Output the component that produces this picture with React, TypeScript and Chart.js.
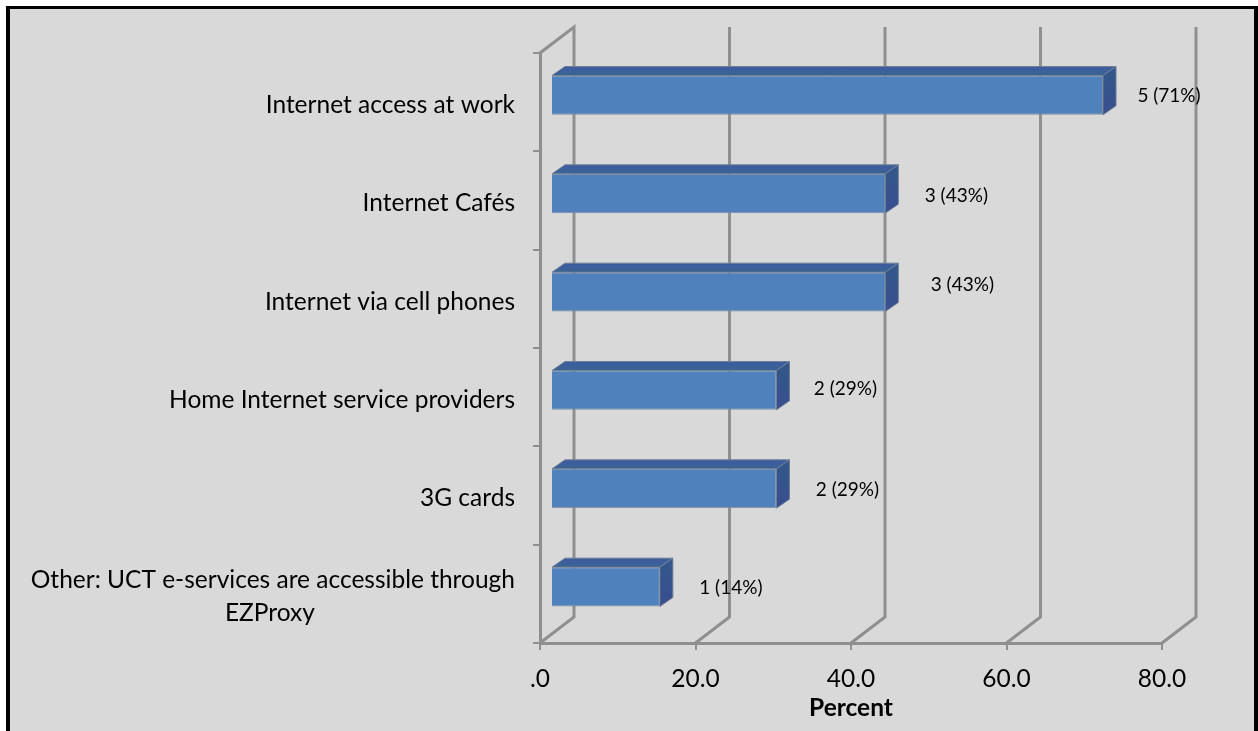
import React, { useEffect, useRef } from "react";
import { Chart, registerables } from "chart.js";

Chart.register(...registerables);

const categories = [
  "Internet access at work",
  "Internet Cafés",
  "Internet via cell phones",
  "Home Internet service providers",
  "3G cards",
  ["Other: UCT e-services are accessible through", "EZProxy"],
];
const percents = [71, 43, 43, 29, 29, 14];
const counts = [5, 3, 3, 2, 2, 1];
const axisTicks = [0, 20, 40, 60, 80];
const axisTitle = "Percent";

const labelNudgeX = [77, 82, 88, 80, 82, 82];
const labelNudgeY = [-6, -5, -14, -8, -6, -6];

const FONT = "Lato, Carlito, Calibri, sans-serif";
const GRID = "#8f8f8f";
const DEPTH_X = 34;
const DEPTH_Y = 26;
const BAR_SHIFT_X = 11;
const BAR_SHIFT_Y = -7;
const BAR_DX = 13;
const BAR_DY = 9;

const framePlugin = {
  id: "frame",
  beforeDraw(chart: any) {
    const { ctx, width, height } = chart;
    ctx.save();
    ctx.fillStyle = "#ffffff";
    ctx.fillRect(0, 0, width, height);
    ctx.fillStyle = "#000000";
    ctx.fillRect(6, 6, width - 6, height - 6);
    ctx.fillStyle = "#d9d9d9";
    ctx.fillRect(10, 9, width - 14, height - 9);
    ctx.restore();
  },
};

const wallPlugin = {
  id: "walls",
  beforeDatasetsDraw(chart: any) {
    const { ctx, chartArea, scales } = chart;
    ctx.save();
    ctx.strokeStyle = GRID;
    ctx.lineWidth = 3;
    ctx.lineJoin = "miter";
    axisTicks.forEach((v) => {
      const px = scales.x.getPixelForValue(v);
      ctx.beginPath();
      ctx.moveTo(px, chartArea.bottom);
      ctx.lineTo(px + DEPTH_X, chartArea.bottom - DEPTH_Y);
      ctx.lineTo(px + DEPTH_X, chartArea.top - DEPTH_Y);
      if (v === 0) ctx.lineTo(px, chartArea.top);
      ctx.stroke();
    });
    ctx.restore();
  },
};

const bar3dPlugin = {
  id: "bar3d",
  beforeDatasetDraw(chart: any, args: any) {
    const { ctx } = chart;
    ctx.save();
    ctx.translate(BAR_SHIFT_X, BAR_SHIFT_Y);
    args.meta.data.forEach((bar: any) => {
      const top = bar.y - bar.height / 2;
      const bottom = bar.y + bar.height / 2;
      const left = bar.base;
      const right = bar.x;

      const topFill = ctx.createLinearGradient(0, top - BAR_DY, 0, top);
      topFill.addColorStop(0, "#3c5b9e");
      topFill.addColorStop(0.5, "#3d5f9c");
      topFill.addColorStop(1, "#386591");
      ctx.fillStyle = topFill;
      ctx.strokeStyle = "#6f7f96";
      ctx.lineWidth = 1;
      ctx.beginPath();
      ctx.moveTo(left, top);
      ctx.lineTo(left + BAR_DX, top - BAR_DY);
      ctx.lineTo(right + BAR_DX, top - BAR_DY);
      ctx.lineTo(right, top);
      ctx.closePath();
      ctx.fill();
      ctx.stroke();

      const sideFill = ctx.createLinearGradient(0, top, 0, bottom);
      sideFill.addColorStop(0, "#33578a");
      sideFill.addColorStop(1, "#3a4d90");
      ctx.fillStyle = sideFill;
      ctx.beginPath();
      ctx.moveTo(right, top);
      ctx.lineTo(right + BAR_DX, top - BAR_DY);
      ctx.lineTo(right + BAR_DX, bottom - BAR_DY);
      ctx.lineTo(right, bottom);
      ctx.closePath();
      ctx.fill();
      ctx.stroke();
    });
  },
  afterDatasetDraw(chart: any) {
    chart.ctx.restore();
  },
};

const valueLabelPlugin = {
  id: "valueLabels",
  afterDatasetsDraw(chart: any) {
    const { ctx } = chart;
    const meta = chart.getDatasetMeta(0);
    ctx.save();
    ctx.font = `19px ${FONT}`;
    ctx.fillStyle = "#000000";
    ctx.textAlign = "center";
    ctx.textBaseline = "middle";
    meta.data.forEach((bar: any, i: number) => {
      ctx.fillText(
        `${counts[i]} (${percents[i]}%)`,
        bar.x + labelNudgeX[i],
        bar.y + labelNudgeY[i]
      );
    });
    ctx.restore();
  },
};

export default function App() {
  const ref = useRef<HTMLCanvasElement | null>(null);

  useEffect(() => {
    const canvas = ref.current;
    if (!canvas) return;
    const chart = new Chart(canvas, {
      type: "bar",
      data: {
        labels: categories as any,
        datasets: [
          {
            label: axisTitle,
            data: percents,
            backgroundColor: (c: any) => {
              const bar = c.chart.getDatasetMeta(0).data[c.dataIndex];
              if (!bar || !bar.height) return "#4f81bd";
              const g = c.chart.ctx.createLinearGradient(
                0,
                bar.y - bar.height / 2,
                0,
                bar.y + bar.height / 2
              );
              g.addColorStop(0, "#4c7dc2");
              g.addColorStop(1, "#4f81b9");
              return g;
            },
            borderColor: "#7f8c9c",
            borderWidth: 1,
            barPercentage: 0.4,
            categoryPercentage: 1,
          },
        ],
      },
      options: {
        indexAxis: "y",
        responsive: false,
        animation: false,
        layout: { padding: { top: 53, right: 96, bottom: 0, left: 0 } },
        plugins: { legend: { display: false }, tooltip: { enabled: false } },
        scales: {
          x: {
            type: "linear",
            min: 0,
            max: 80,
            afterBuildTicks: (s: any) => {
              s.ticks = axisTicks.map((value) => ({ value }));
            },
            afterFit: (s: any) => {
              s.height = 88;
            },
            border: { color: GRID, width: 3 },
            grid: { drawOnChartArea: false, drawTicks: true, tickLength: 7, color: GRID, lineWidth: 2 },
            ticks: {
              padding: 14,
              color: "#000000",
              maxRotation: 0,
              font: { family: FONT, size: 24.5 },
              callback: (v: any) => (Number(v) === 0 ? ".0" : Number(v).toFixed(1)),
            },
            title: {
              display: true,
              text: axisTitle,
              color: "#000000",
              font: { family: FONT, size: 24.5, weight: "bold" },
              padding: { top: 0, bottom: 8 },
            },
          },
          y: {
            type: "category",
            afterFit: (s: any) => {
              s.width = 540;
            },
            border: { color: GRID, width: 3 },
            grid: { drawOnChartArea: false, drawTicks: true, tickLength: 7, color: GRID, lineWidth: 2 },
            ticks: {
              padding: 18,
              labelOffset: 3,
              color: "#000000",
              autoSkip: false,
              font: { family: FONT, size: 24.5, lineHeight: 1.35 },
              callback: function (this: any, _v: any, i: number) {
                const label = categories[i];
                if (Array.isArray(label)) {
                  return [label[0], label[1] + "\u00A0".repeat(32)];
                }
                return label;
              },
            },
          },
        },
      },
      plugins: [framePlugin, wallPlugin, bar3dPlugin, valueLabelPlugin],
    } as any);
    return () => chart.destroy();
  }, []);

  return (
    <div style={{ position: "fixed", left: 0, top: 0, width: 1258, height: 731 }}>
      <canvas ref={ref} width={1258} height={731} style={{ display: "block" }} />
    </div>
  );
}
